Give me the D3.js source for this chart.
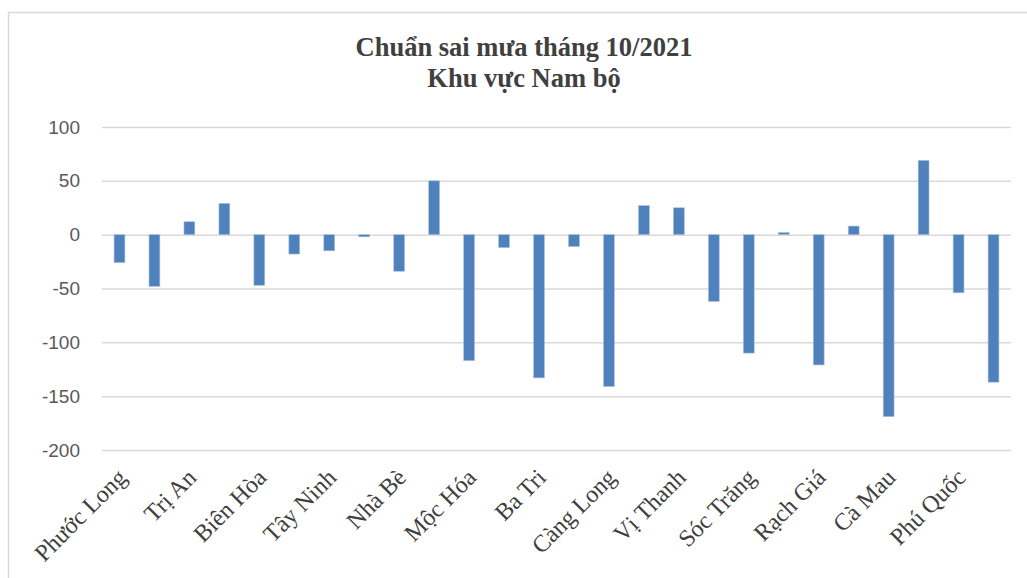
<!DOCTYPE html>
<html>
<head>
<meta charset="utf-8">
<script src="https://cdn.jsdelivr.net/npm/d3@7"></script>
<style>
  body { margin: 0; background: #fff; }
  svg { display: block; }
</style>
</head>
<body>
<div id="chart"></div>
<script>
// stations (only every other one gets a label on the axis)
var stations = ["Phước Long", "Đồng Xoài", "Trị An", "Vũng Tàu", "Biên Hòa", "Thủ Dầu Một",
  "Tây Ninh", "Tân Sơn Hòa", "Nhà Bè", "Mỹ Tho", "Mộc Hóa", "Tân An", "Ba Tri", "Cao Lãnh",
  "Càng Long", "Cần Thơ", "Vị Thanh", "Châu Đốc", "Sóc Trăng", "Bạc Liêu", "Rạch Giá",
  "Côn Đảo", "Cà Mau", "Thổ Chu", "Phú Quốc", "Năm Căn"];
// rainfall anomaly (mm)
var anomaly = [-26, -48, 12, 29, -47, -18, -15, -2, -34, 50, -117, -12, -133, -11,
  -141, 27, 25, -62, -110, 2, -121, 8, -169, 69, -54, -137];
var yTicks = [100, 50, 0, -50, -100, -150, -200];
var titleLines = ["Chuẩn sai mưa tháng 10/2021", "Khu vực Nam bộ"];

var W = 1027, H = 578;
var margin = {top: 127, left: 102, right: 16, bottom: 128};
var width = W - margin.left - margin.right,
    height = H - margin.top - margin.bottom;

var svg = d3.select("#chart").append("svg")
    .attr("width", W)
    .attr("height", H);

// chart area border (runs off the right and bottom of the picture)
svg.append("rect")
    .attr("x", 8.5).attr("y", 12.5)
    .attr("width", 1040).attr("height", 600)
    .attr("fill", "#fff")
    .attr("stroke", "#d9d9d9")
    .attr("stroke-width", 1.5);

// title
svg.append("text")
    .attr("x", 524)
    .attr("y", 56)
    .attr("text-anchor", "middle")
    .style("font-family", "'Liberation Serif', 'Times New Roman', serif")
    .style("font-weight", "bold")
    .style("font-size", "26.5px")
    .style("fill", "#404040")
    .selectAll("tspan")
    .data(titleLines)
    .enter().append("tspan")
    .attr("x", 524)
    .attr("dy", function(d, i) { return i == 0 ? 0 : 31; })
    .text(function(d) { return d; });

var g = svg.append("g")
    .attr("transform", "translate(" + margin.left + "," + margin.top + ")");

var x = d3.scaleBand().domain(stations).range([0, width]).paddingInner(0.69).paddingOuter(0.345);
var y = d3.scaleLinear().domain([-200, 100]).range([height, 0]);

// gridlines
g.append("g")
    .attr("class", "grid")
    .call(d3.axisLeft(y).tickValues(yTicks).tickSize(-width).tickFormat(""))
    .call(function(s) {
      s.select(".domain").remove();
      s.selectAll("line").attr("stroke", "#d9d9d9").attr("stroke-width", 1.5);
    });

// y axis labels (plain hyphen for negatives, like Excel)
g.append("g")
    .call(d3.axisLeft(y).tickValues(yTicks).tickSize(0).tickPadding(22)
      .tickFormat(function(d) { return String(d); }))
    .call(function(s) {
      s.select(".domain").remove();
      s.selectAll("text")
        .style("font-family", "'Liberation Sans', Arial, sans-serif")
        .style("font-size", "19px")
        .style("fill", "#595959");
    });

// bars
g.selectAll(".bar")
    .data(anomaly)
    .enter().append("rect")
    .attr("class", "bar")
    .attr("x", function(d, i) { return x(stations[i]); })
    .attr("width", x.bandwidth())
    .attr("y", function(d) { return y(Math.max(0, d)); })
    .attr("height", function(d) { return Math.abs(y(d) - y(0)); })
    .attr("fill", "#4f81bd")
    .attr("stroke", "#a9c1de")
    .attr("stroke-width", 0.6);

// category labels at the bottom, every other one
var xAxis = d3.axisBottom(x)
    .tickSize(0)
    .tickFormat(function(d, i) { return i % 2 == 0 ? d : ""; });

g.append("g")
    .attr("transform", "translate(0," + height + ")")
    .call(xAxis)
    .call(function(s) {
      s.select(".domain").remove();
      s.selectAll("text")
        .attr("y", 0).attr("dy", 0)
        .attr("text-anchor", "end")
        .attr("transform", "translate(" + (x.bandwidth() / 2 + 3) + ",29) rotate(-45)")
        .style("font-family", "'Liberation Serif', 'Times New Roman', serif")
        .style("font-size", "24px")
        .style("fill", "#404040");
    });
</script>
</body>
</html>
